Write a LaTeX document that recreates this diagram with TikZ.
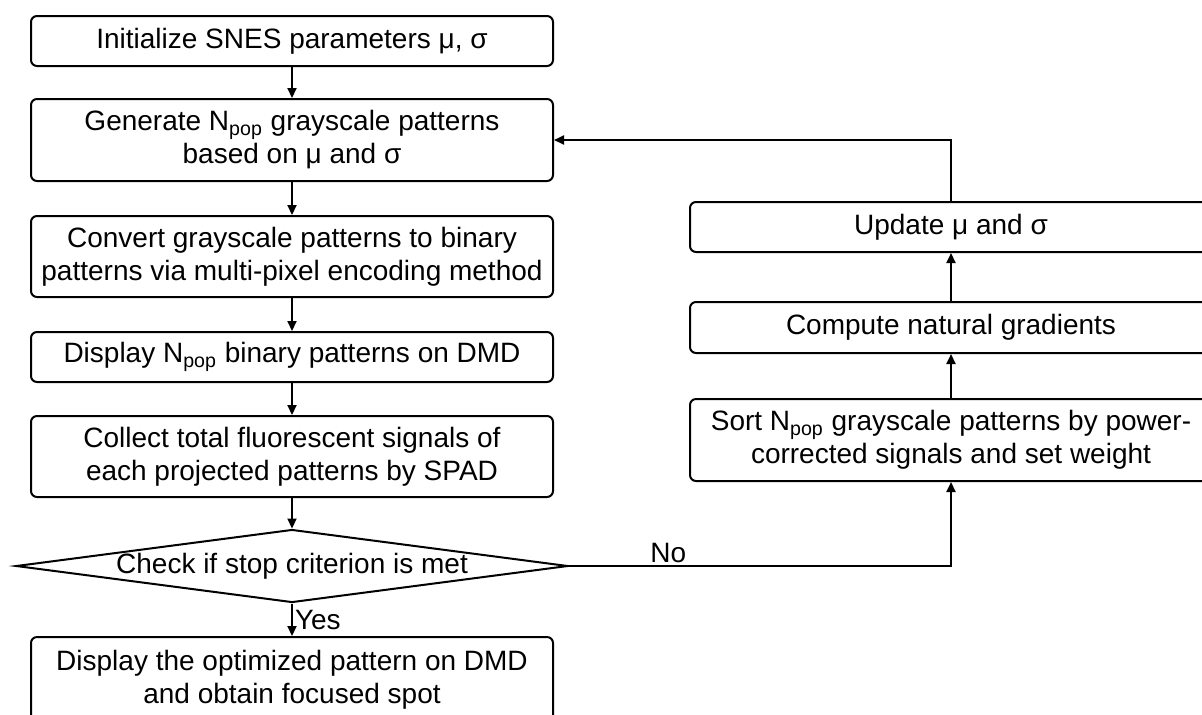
\documentclass[tikz,border=0pt]{standalone}
\usepackage{fontspec}
\setmainfont{Liberation Sans}
\usetikzlibrary{arrows.meta, shapes.geometric, calc}

\begin{document}
\begin{tikzpicture}[x=0.5pt, y=-0.5pt,
        every node/.style={font=\fontsize{14}{16.5}\selectfont},
        procbox/.style={draw, line width=1pt, rounded corners=3pt, align=center, minimum width=261pt, inner sep=2pt},
        checkbox/.style={draw, line width=1pt, diamond, aspect=7.5, inner sep=0pt, minimum width=276pt, minimum height=36pt},
        flow/.style={line width=1pt, -{Triangle[length=5pt,width=4.5pt]}}]
        \useasboundingbox (0,0) rectangle (1202,714);
        \clip (0,0) rectangle (1202,714);
        \node[procbox, minimum height=25pt] (init) at (292,41) {Initialize SNES parameters μ, σ};
        \node[procbox, minimum height=41pt] (gen) at (292,140) {Generate N\textsubscript{pop} grayscale patterns\\based on μ and σ};
        \node[procbox, minimum height=40.5pt] (conv) at (292,256.5) {Convert grayscale patterns to binary\\patterns via multi-pixel encoding method};
        \node[procbox, minimum height=25pt] (show) at (292,357) {Display N\textsubscript{pop} binary patterns on DMD};
        \node[procbox, minimum height=40.5pt] (collect) at (292,456.5) {Collect total fluorescent signals of\\each projected patterns by SPAD};
        \node[checkbox] (check) at (292,566) {Check if stop criterion is met};
        \node[procbox, minimum height=43pt] (final) at (292,680) {Display the optimized pattern on DMD\\and obtain focused spot};
        \node[procbox, minimum height=41pt] (sort) at (951,440) {Sort N\textsubscript{pop} grayscale patterns by power-\\corrected signals and set weight};
        \node[procbox, minimum height=25.5pt] (grad) at (951,327.5) {Compute natural gradients};
        \node[procbox, minimum height=25pt] (update) at (951,227) {Update μ and σ};
        \draw[flow] (init) -- (gen);
        \draw[flow] (gen) -- (conv);
        \draw[flow] (conv) -- (show);
        \draw[flow] (show) -- (collect);
        \draw[flow] (collect) -- (check);
        \draw[flow] (check) -- node[right, inner sep=1pt] {Yes} (final);
        \draw[flow] (check.east) -- node[above, pos=.26, inner sep=1pt] {No} (check.east -| sort.south) -- (sort.south);
        \draw[flow] (sort) -- (grad);
        \draw[flow] (grad) -- (update);
        \draw[flow] (update.north) |- (gen.east);
    \end{tikzpicture}
\end{document}
